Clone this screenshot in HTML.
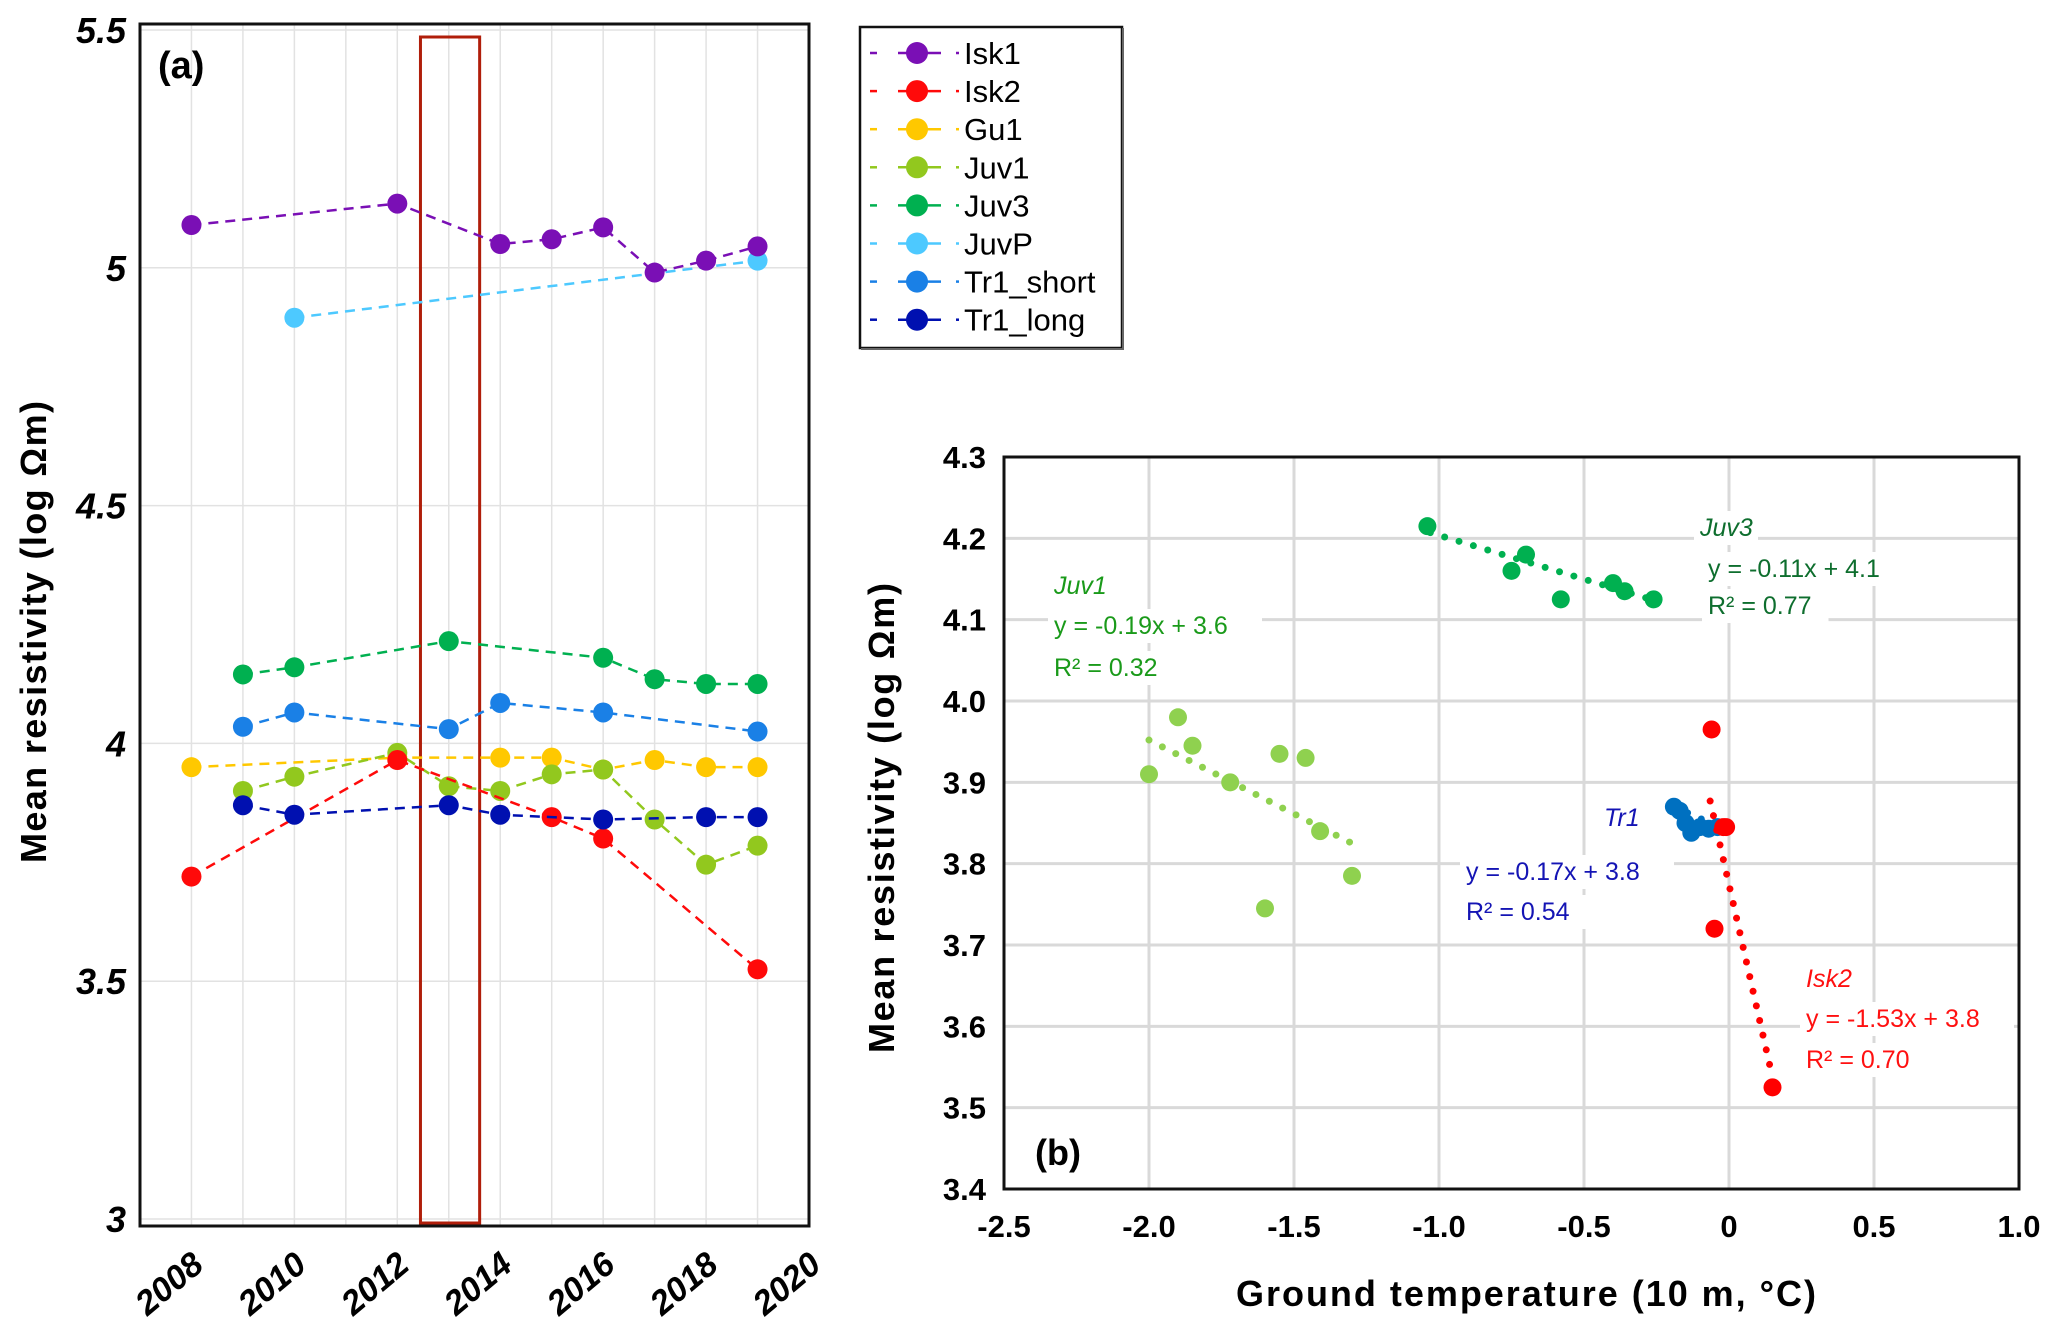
<!DOCTYPE html>
<html><head><meta charset="utf-8">
<style>
html,body{margin:0;padding:0;background:#fff;}
svg{display:block;font-family:"Liberation Sans",sans-serif;}
</style></head>
<body>
<svg id="chart" width="2067" height="1344" viewBox="0 0 2067 1344" xmlns="http://www.w3.org/2000/svg">
<g id="pa"></g>
<g id="pb"></g>
<g id="lg"></g>
</svg>
<script>
// ---- Panel (a) data ----
const aYears = [2008,2010,2012,2014,2016,2018,2020];
const aYTicks = [3,3.5,4,4.5,5,5.5];
const seriesNames = ['Isk1','Isk2','Gu1','Juv1','Juv3','JuvP','Tr1_short','Tr1_long'];
const seriesColors = ['#7a0fb5','#ff0a0a','#ffc800','#92c81e','#00b050','#4dc9ff','#1a80e6','#0010b0'];
const isk1X = [2008,2012,2014,2015,2016,2017,2018,2019];
const isk1Y = [5.09,5.135,5.05,5.06,5.085,4.99,5.015,5.045];
const isk2X = [2008,2012,2015,2016,2019];
const isk2Y = [3.72,3.965,3.845,3.80,3.525];
const gu1X = [2008,2012,2014,2015,2016,2017,2018,2019];
const gu1Y = [3.95,3.97,3.97,3.97,3.945,3.965,3.95,3.95];
const juv1X = [2009,2010,2012,2013,2014,2015,2016,2017,2018,2019];
const juv1Y = [3.90,3.93,3.98,3.91,3.90,3.935,3.945,3.84,3.745,3.785];
const juv3X = [2009,2010,2013,2016,2017,2018,2019];
const juv3Y = [4.145,4.16,4.215,4.18,4.135,4.125,4.125];
const juvPX = [2010,2019];
const juvPY = [4.895,5.015];
const tr1sX = [2009,2010,2013,2014,2016,2019];
const tr1sY = [4.035,4.065,4.03,4.085,4.065,4.025];
const tr1lX = [2009,2010,2013,2014,2016,2018,2019];
const tr1lY = [3.87,3.85,3.87,3.85,3.84,3.845,3.845];
const highlightYears = [2012.45,2013.6];

// ---- Panel (b) data ----
const bXTicks = [-2.5,-2.0,-1.5,-1.0,-0.5,0,0.5,1.0];
const bXLabels = ['-2.5','-2.0','-1.5','-1.0','-0.5','0','0.5','1.0'];
const bYTicks = [3.4,3.5,3.6,3.7,3.8,3.9,4.0,4.1,4.2,4.3];
const juv1T = [-2.0,-1.9,-1.85,-1.72,-1.55,-1.46,-1.41,-1.30,-1.6];
const juv1R = [3.91,3.98,3.945,3.90,3.935,3.93,3.84,3.785,3.745];
const juv1Trend = [[-2.0,3.952],[-1.3,3.825]];
const juv3T = [-1.04,-0.75,-0.70,-0.58,-0.40,-0.36,-0.26];
const juv3R = [4.215,4.16,4.18,4.125,4.145,4.135,4.125];
const juv3Trend = [[-1.03,4.207],[-0.27,4.125]];
const tr1T = [-0.19,-0.17,-0.15,-0.13,-0.10,-0.07,-0.04];
const tr1R = [3.87,3.865,3.85,3.838,3.845,3.843,3.845];
const tr1Trend = [[-0.19,3.87],[-0.02,3.843]];
const isk2T = [-0.06,-0.01,-0.05,0.15,-0.02];
const isk2R = [3.965,3.845,3.72,3.525,3.845];
const isk2Trend = [[-0.065,3.877],[0.145,3.545]];

const NS='http://www.w3.org/2000/svg';
function mk(parent,tag,attrs,text){const e=document.createElementNS(NS,tag);for(const k in attrs)e.setAttribute(k,attrs[k]);if(text!==undefined)e.textContent=text;parent.appendChild(e);return e;}

// ---- Panel (a) ----
const pa=document.getElementById('pa');
const aL=140,aR=809,aT=24,aB=1226,xMin=2007,xMax=2020,yMin=3,yMax=5.5,yPx3=1219,yPxTop=30;
const ax=v=>aL+(v-xMin)/(xMax-xMin)*(aR-aL);
const ay=v=>yPx3-(v-yMin)/(yMax-yMin)*(yPx3-yPxTop);
for(let yr=2008;yr<=2019;yr++){const g=mk(pa,'line',{x1:ax(yr),x2:ax(yr),y1:aT,y2:aB,stroke:'#e2e2e2','stroke-width':1.5});

}
aYTicks.forEach(v=>{const g=mk(pa,'line',{x1:aL,x2:aR,y1:ay(v),y2:ay(v),stroke:'#e2e2e2','stroke-width':1.5});


const t=mk(pa,'text',{x:aL-14,y:ay(v)+13,'text-anchor':'end','font-size':36,'font-weight':'bold','font-style':'italic'},String(v));

});
aYears.forEach(v=>{const x=ax(v);const t=mk(pa,'text',{x:x+14,y:aB+42,'text-anchor':'end','font-size':34,'font-weight':'bold','font-style':'italic',transform:`rotate(-40 ${x+14} ${aB+42})`},String(v));

});
const hr=mk(pa,'rect',{x:ax(highlightYears[0]),y:37,width:ax(highlightYears[1])-ax(highlightYears[0]),height:1186,fill:'none',stroke:'#b01e0a','stroke-width':3});


const allX=[isk1X,isk2X,gu1X,juv1X,juv3X,juvPX,tr1sX,tr1lX];
const allY=[isk1Y,isk2Y,gu1Y,juv1Y,juv3Y,juvPY,tr1sY,tr1lY];
const drawOrder=[5,0,4,6,2,3,1,7];
drawOrder.forEach(i=>{const xs=allX[i],ys=allY[i],c=seriesColors[i];
const pts=xs.map((x,j)=>ax(x)+','+ay(ys[j])).join(' ');
const pl=mk(pa,'polyline',{points:pts,fill:'none',stroke:c,'stroke-width':2.5,'stroke-dasharray':'10,7'});


xs.forEach((x,j)=>{const p=mk(pa,'circle',{cx:ax(x),cy:ay(ys[j]),r:10,fill:c});

});});
const fa=mk(pa,'rect',{x:aL,y:aT,width:aR-aL,height:aB-aT,fill:'none',stroke:'#111','stroke-width':3});


const la=mk(pa,'text',{x:158,y:78,'font-size':38,'font-weight':'bold'},'(a)');


const ta=mk(pa,'text',{x:46,y:632,'text-anchor':'middle','font-size':36,'font-weight':'bold',textLength:462,transform:'rotate(-90 46 632)'},'Mean resistivity (log Ωm)');



// ---- Legend ----
const lg=document.getElementById('lg');
const lb=mk(lg,'rect',{x:860,y:27,width:262,height:321,fill:'#fff',stroke:'#111','stroke-width':2.5});


mk(lg,'line',{x1:1123,y1:28,x2:1123,y2:350,stroke:'#666','stroke-width':2});
mk(lg,'line',{x1:861,y1:349,x2:1124,y2:349,stroke:'#666','stroke-width':2});
seriesNames.forEach((n,i)=>{const y=53+i*38.1,c=seriesColors[i];
const g=mk(lg,'g',{});


mk(g,'line',{x1:870,x2:877,y1:y,y2:y,stroke:c,'stroke-width':2.5});
mk(g,'line',{x1:898,x2:941,y1:y,y2:y,stroke:c,'stroke-width':2.5});
mk(g,'line',{x1:956,x2:959,y1:y,y2:y,stroke:c,'stroke-width':2.5});
mk(g,'circle',{cx:917,cy:y,r:11,fill:c});
mk(g,'text',{x:964,y:y+11,'font-size':31},n);});

// ---- Panel (b) ----
const pb=document.getElementById('pb');
const bL=1004,bR=2019,bT=457,bB=1189,tMin=-2.5,tMax=1.0,rMin=3.4,rMax=4.3;
const bx=v=>bL+(v-tMin)/(tMax-tMin)*(bR-bL);
const by=v=>bB-(v-rMin)/(rMax-rMin)*(bB-bT);
bXTicks.forEach((v,i)=>{const g=mk(pb,'line',{x1:bx(v),x2:bx(v),y1:bT,y2:bB,stroke:'#d9d9d9','stroke-width':3});


const t=mk(pb,'text',{x:bx(v),y:bB+48,'text-anchor':'middle','font-size':31,'font-weight':'bold'},bXLabels[i]);

});
bYTicks.forEach(v=>{const g=mk(pb,'line',{x1:bL,x2:bR,y1:by(v),y2:by(v),stroke:'#d9d9d9','stroke-width':3});


const t=mk(pb,'text',{x:bL-18,y:by(v)+11,'text-anchor':'end','font-size':31,'font-weight':'bold'},v.toFixed(1));

});
function label(x,y,txt,c,it,name){const w=txt.length*12.5+14;
mk(pb,'rect',{x:x-6,y:y-25,width:w,height:34,fill:'#fff'});
const t=mk(pb,'text',{x:x,y:y,'font-size':25,fill:c,'font-style':it?'italic':'normal'},txt);

}
label(1054,594,'Juv1','#1a9a1a',true,'juv1-label');
label(1054,634,'y = -0.19x + 3.6','#1a9a1a',false,'juv1-equation');
label(1054,676,'R² = 0.32','#1a9a1a',false,'juv1-r2');
label(1700,536,'Juv3','#0e6e2e',true,'juv3-label');
label(1708,577,'y = -0.11x + 4.1','#0e6e2e',false,'juv3-equation');
label(1708,614,'R² = 0.77','#0e6e2e',false,'juv3-r2');
label(1604,826,'Tr1','#1414b4',true,'tr1-label');
label(1466,880,'y = -0.17x + 3.8','#1414b4',false,'tr1-equation');
label(1466,920,'R² = 0.54','#1414b4',false,'tr1-r2');
label(1806,987,'Isk2','#ff1010',true,'isk2-label');
label(1806,1027,'y = -1.53x + 3.8','#ff1010',false,'isk2-equation');
label(1806,1068,'R² = 0.70','#ff1010',false,'isk2-r2');
function trend(tr,c,name){const l=mk(pb,'line',{x1:bx(tr[0][0]),y1:by(tr[0][1]),x2:bx(tr[1][0]),y2:by(tr[1][1]),stroke:c,'stroke-width':7,'stroke-linecap':'round','stroke-dasharray':'0,15'});

}
function pts(ts,rs,c,name){ts.forEach((t,i)=>{const p=mk(pb,'circle',{cx:bx(t),cy:by(rs[i]),r:9,fill:c});

});}
pts(juv1T,juv1R,'#8fd14f','point-juv1');trend(juv1Trend,'#8fd14f','trend-juv1');
pts(juv3T,juv3R,'#00b050','point-juv3');trend(juv3Trend,'#00b050','trend-juv3');
pts(tr1T,tr1R,'#0070c0','point-tr1');trend(tr1Trend,'#0070c0','trend-tr1');
pts(isk2T,isk2R,'#ff0000','point-isk2');trend(isk2Trend,'#ff0000','trend-isk2');
const fb=mk(pb,'rect',{x:bL,y:bT,width:bR-bL,height:bB-bT,fill:'none',stroke:'#111','stroke-width':3});


const lbb=mk(pb,'text',{x:1035,y:1165,'font-size':36,'font-weight':'bold'},'(b)');


const tyb=mk(pb,'text',{x:894,y:818,'text-anchor':'middle','font-size':36,'font-weight':'bold',textLength:470,transform:'rotate(-90 894 818)'},'Mean resistivity (log Ωm)');


const txb=mk(pb,'text',{x:1526,y:1306,'text-anchor':'middle','font-size':36,'font-weight':'bold',textLength:580},'Ground temperature (10 m, °C)');


</script>
</body></html>
